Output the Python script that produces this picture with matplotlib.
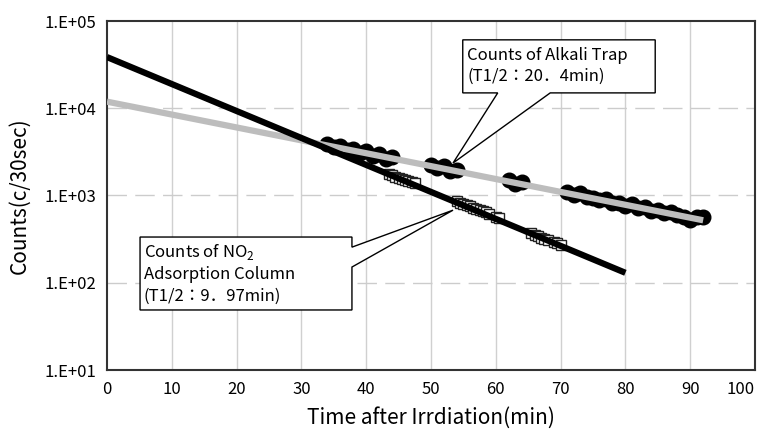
import matplotlib
matplotlib.use("Agg")
import matplotlib.pyplot as plt
from matplotlib.patches import Polygon

plt.rcParams['font.family'] = ['Noto Sans CJK JP', 'DejaVu Sans']

# ---- data ----
alk_t = [34, 35, 36, 37, 38, 39, 40, 41, 42, 43, 44,
         50, 51, 52, 53, 54,
         62, 63, 64,
         71, 72, 73, 74, 75, 76, 77, 78, 79, 80, 81, 82, 83, 84, 85, 86, 87, 88, 89, 90, 91, 92]
alk_counts = [3900, 3550, 3700, 3350, 3400, 3100, 3200, 2850, 3000, 2650, 2750,
              2250, 2050, 2150, 1900, 1950,
              1500, 1350, 1420,
              1100, 1000, 1060, 950, 940, 880, 900, 820, 830, 760, 790, 720, 740, 670, 690,
              630, 650, 590, 560, 530, 560, 570]

no2_t = [43.5, 44, 44.5, 45, 45.5, 46, 46.5, 47, 47.5,
         54, 54.5, 55, 55.5, 56, 56.5, 57, 57.5, 58, 58.5, 59, 60, 60.5,
         65.5, 66, 66.5, 67, 67.5, 68, 69, 69.5, 70]
no2_counts = [1750, 1720, 1650, 1600, 1560, 1520, 1450, 1420, 1380,
              860, 830, 800, 780, 760, 720, 700, 680, 660, 640, 610, 570, 550,
              370, 350, 345, 330, 320, 305, 290, 285, 270]

fit_alk_t = [0, 92]
fit_alk = [11900, 520]
fit_no2_t = [0, 80]
fit_no2 = [38600, 130]

x_ticks = [0, 10, 20, 30, 40, 50, 60, 70, 80, 90, 100]
y_ticks = [1e1, 1e2, 1e3, 1e4, 1e5]
y_tick_labels = ['1.E+01', '1.E+02', '1.E+03', '1.E+04', '1.E+05']

# ---- figure ----
fig = plt.figure(figsize=(7.61, 4.36), dpi=100)
ax = fig.add_axes([107/761, 66/436, 648/761, 349/436])

ax.set_yscale('log')
ax.set_xlim(0, 100)
ax.set_ylim(1e1, 1e5)
ax.set_xticks(x_ticks)
ax.set_yticks(y_ticks)
ax.set_yticklabels(y_tick_labels)
ax.minorticks_off()
ax.tick_params(length=0, labelsize=12, pad=8)
last = ax.get_xticklabels()[-1]
last.set_horizontalalignment('right')
last.set_x(100)

for x in x_ticks[1:-1]:
    ax.axvline(x, color='#d0d0d0', lw=1.0, zorder=0)
for y in y_ticks[1:-1]:
    ax.axhline(y, color='#cccccc', lw=1.0, ls=(0, (14, 6)), zorder=0)

for s in ax.spines.values():
    s.set_color('#333333')
    s.set_linewidth(1.5)

ax.plot(alk_t, alk_counts, 'o', color='black', ms=10.5, zorder=3)
ax.plot(fit_alk_t, fit_alk, '-', color='#bdbdbd', lw=4.5, zorder=4, solid_capstyle='butt')
ax.plot(no2_t, no2_counts, 's', mfc='white', mec='#222222', mew=1.0, ms=6.5, zorder=3)
ax.plot(fit_no2_t, fit_no2, '-', color='black', lw=4.5, zorder=4, solid_capstyle='butt')

ax.set_xlabel('Time after Irrdiation(min)', fontsize=15, labelpad=6)
ax.set_ylabel('Counts(c/30sec)', fontsize=15, labelpad=10)

# callout: alkali trap
alk_poly = [(0.549, 0.946), (0.846, 0.946), (0.846, 0.794), (0.684, 0.794),
            (0.534, 0.593), (0.603, 0.794), (0.549, 0.794)]
ax.add_patch(Polygon(alk_poly, closed=True, transform=ax.transAxes,
                     fc='white', ec='black', lw=1.0, zorder=6))
ax.text(0.556, 0.870, 'Counts of Alkali Trap\n(T1/2：20．4min)', transform=ax.transAxes,
        fontsize=12, va='center', ha='left', linespacing=1.3, zorder=7)

# callout: NO2 column
no2_poly = [(0.051, 0.381), (0.378, 0.381), (0.378, 0.352), (0.534, 0.458),
            (0.378, 0.295), (0.378, 0.172), (0.051, 0.172)]
ax.add_patch(Polygon(no2_poly, closed=True, transform=ax.transAxes,
                     fc='white', ec='black', lw=1.0, zorder=6))
ax.text(0.057, 0.277, 'Counts of NO$_\\mathregular{2}$\nAdsorption Column\n(T1/2：9．97min)',
        transform=ax.transAxes, fontsize=12, va='center', ha='left', linespacing=1.35, zorder=7)

fig.savefig('out.png', dpi=100)
